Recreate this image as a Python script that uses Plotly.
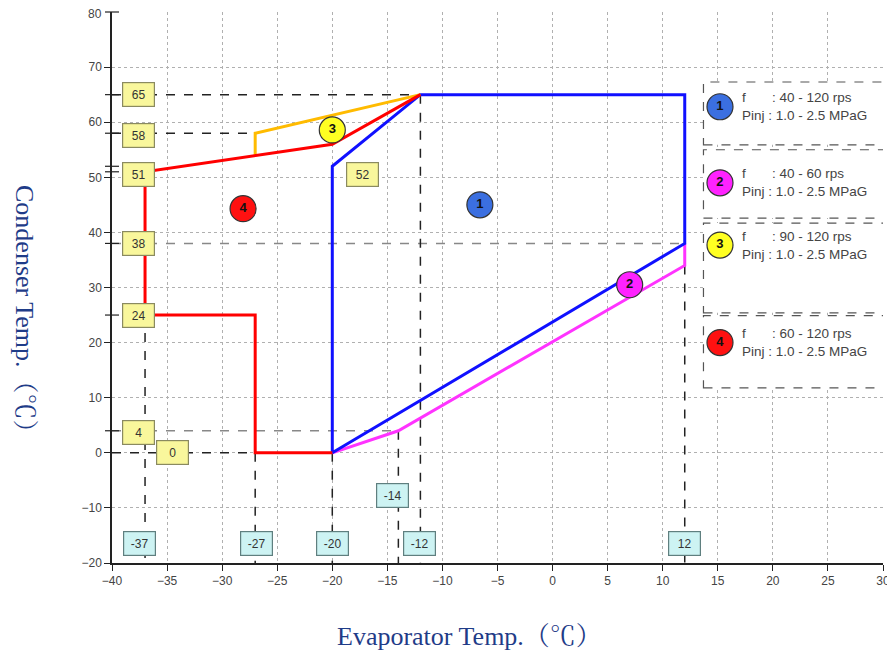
import plotly.graph_objects as go

# ---- data ----
r1_x = [-20, -20, -12, 12, 12, -20]
r1_y = [0, 52, 65, 65, 38, 0]
r2_x = [12, 12, -14, -20]
r2_y = [38, 34, 4, 0]
r3_x = [-27, -27, -12]
r3_y = [54, 58, 65]
r4_x = [-12, -20, -37, -37, -27, -27, -20]
r4_y = [65, 56, 51, 25, 25, 0, 0]

# horizontal reference lines: (y, x_end, colour)
h_ref_y = [65, 58, 38, 4, 0]
h_ref_xend = [-12, -27, 12, -14, -27]
h_ref_col = ["#222222", "#222222", "#888888", "#888888", "#222222"]
# vertical reference lines: (x, y_top)
v_ref_x = [-37, -27, -20, -14, -12, 12]
v_ref_ytop = [25, 0, 0, 4, 65, 34]

# extra ticks on the y axis
extra_ticks = [80, 65, 58, 52, 51, 38, 25, 4]

# axis ticks
x_ticks = list(range(-40, 31, 5))
y_ticks = list(range(-20, 71, 10))
y_top_tick = 80

# value labels
yl_text = ["65", "58", "51", "38", "24", "4", "0", "52"]
yl_x = [-37.6, -37.6, -37.6, -37.6, -37.6, -37.6, -34.5, -17.3]
yl_y = [65, 57.5, 50.5, 38, 25, 3.6, 0, 50.5]
cl_text = ["-37", "-27", "-20", "-12", "12", "-14"]
cl_x = [-37.5, -26.9, -20, -12.1, 12, -14.5]
cl_y = [-16.5, -16.5, -16.5, -16.5, -16.5, -7.8]

# region markers
mk_text = ["1", "2", "3", "4"]
mk_x = [-6.6, 7, -20, -28.1]
mk_y = [45, 30.5, 58.6, 44.3]
mk_col = ["#3b6fe0", "#ff22ff", "#ffff22", "#ff1111"]

# legend
leg_f = [": 40 - 120 rps", ": 40 - 60 rps", ": 90 - 120 rps", ": 60 - 120 rps"]
leg_p = [": 1.0 - 2.5 MPaG"] * 4
leg_cy = [62.8, 49.0, 37.7, 20.0]
leg_box = [(55.9, 67.3), (42.6, 55.0), (25.4, 41.7), (11.8, 24.9)]

line_cols = ["#1010ff", "#ff33ff", "#ffbb00", "#ff0000"]

fig = go.Figure()

for y, xe, c in zip(h_ref_y, h_ref_xend, h_ref_col):
    fig.add_trace(go.Scatter(x=[-40, xe], y=[y, y], mode="lines",
                             line=dict(color=c, width=1.5, dash="dash"),
                             hoverinfo="skip", showlegend=False))
for x, yt in zip(v_ref_x, v_ref_ytop):
    fig.add_trace(go.Scatter(x=[x, x], y=[yt, -20], mode="lines",
                             line=dict(color="#222222", width=1.5, dash="dash"),
                             hoverinfo="skip", showlegend=False))

for xs, ys, c in [(r2_x, r2_y, line_cols[1]), (r1_x, r1_y, line_cols[0]),
                  (r3_x, r3_y, line_cols[2]), (r4_x, r4_y, line_cols[3])]:
    fig.add_trace(go.Scatter(x=xs, y=ys, mode="lines",
                             line=dict(color=c, width=3),
                             hoverinfo="skip", showlegend=False))

fig.add_trace(go.Scatter(x=[-40] * len(extra_ticks), y=extra_ticks, mode="markers",
                         marker=dict(symbol="line-ew", size=10, line=dict(color="#222", width=1.2)),
                         cliponaxis=False, hoverinfo="skip", showlegend=False))

bold_text = ["<b>" + t + "</b>" for t in mk_text]
# region markers
fig.add_trace(go.Scatter(x=mk_x, y=mk_y, mode="markers+text", text=bold_text,
                         textposition="middle center",
                         textfont=dict(family="Liberation Sans", size=13, color="#111"),
                         marker=dict(size=26, color=mk_col, line=dict(color="#333", width=1.2)),
                         hoverinfo="skip", showlegend=False))
# legend markers
fig.add_trace(go.Scatter(x=[15.2] * 4, y=leg_cy, mode="markers+text", text=bold_text,
                         textposition="middle center",
                         textfont=dict(family="Liberation Sans", size=13, color="#111"),
                         marker=dict(size=26, color=mk_col, line=dict(color="#333", width=1.2)),
                         hoverinfo="skip", showlegend=False))

shapes = []
for (y0, y1) in leg_box:
    shapes.append(dict(type="rect", xref="x", yref="y", x0=13.7, x1=32, y0=y0, y1=y1,
                       fillcolor="white", line=dict(color="#555", width=1.2, dash="dash"),
                       layer="between"))

ann = []
for t, x, y in zip(yl_text, yl_x, yl_y):
    ann.append(dict(x=x, y=y, xref="x", yref="y", text=t, showarrow=False,
                    font=dict(family="Liberation Sans", size=12, color="#333"),
                    bgcolor="#f9f79c", bordercolor="#8a8a60", borderwidth=1.2,
                    borderpad=3, width=25, height=17))
for t, x, y in zip(cl_text, cl_x, cl_y):
    ann.append(dict(x=x, y=y, xref="x", yref="y", text=t, showarrow=False,
                    font=dict(family="Liberation Sans", size=12, color="#333"),
                    bgcolor="#cdf3f3", bordercolor="#5f7f7f", borderwidth=1.2,
                    borderpad=3, width=25, height=17))
for f, p, cy in zip(leg_f, leg_p, leg_cy):
    ann.append(dict(x=17.0, y=cy, xref="x", yref="y", xanchor="left", yanchor="middle",
                    text="f" + "&nbsp;" * 7 + f + "<br>Pinj&nbsp;" + p,
                    showarrow=False, align="left",
                    font=dict(family="Liberation Sans", size=13.5, color="#444")))

# top y tick label (drawn as annotation so it is not dropped at the page edge)
ann.append(dict(x=0, y=y_top_tick, xref="paper", yref="y", xanchor="right", yanchor="top",
                xshift=-8, yshift=7, text=str(y_top_tick), showarrow=False,
                font=dict(family="Liberation Sans", size=12, color="#444")))

title_font = dict(family="Liberation Serif, Noto Serif CJK SC, serif", size=26, color="#1f3c88")
ann.append(dict(x=0.464, y=-0.1325, xref="paper", yref="paper", xanchor="center", yanchor="middle",
                text="Evaporator Temp.（℃）", showarrow=False, font=title_font))
ann.append(dict(x=-0.1128, y=0.45, xref="paper", yref="paper", xanchor="center", yanchor="middle",
                text="Condenser Temp.（℃）", showarrow=False, textangle=90, font=title_font))

fig.update_layout(
    width=895, height=656,
    margin=dict(l=104, r=20, t=4, b=101),
    paper_bgcolor="white", plot_bgcolor="white",
    shapes=shapes, annotations=ann, showlegend=False,
    xaxis=dict(range=[-40, 30], tickvals=x_ticks, showgrid=True,
               gridcolor="#b0b0b0", griddash="dot", gridwidth=1, automargin=False,
               showline=True, linecolor="#222", linewidth=1.5, ticks="outside",
               ticklen=6, tickcolor="#222", zeroline=False,
               tickfont=dict(family="Liberation Sans", size=12, color="#444")),
    yaxis=dict(range=[-20, 80], tickvals=y_ticks, showgrid=True,
               gridcolor="#b0b0b0", griddash="dot", gridwidth=1, automargin=False,
               showline=True, linecolor="#222", linewidth=1.5, ticks="outside",
               ticklen=6, tickcolor="#222", zeroline=False,
               tickfont=dict(family="Liberation Sans", size=12, color="#444")),
)

fig.write_html("out.html")
